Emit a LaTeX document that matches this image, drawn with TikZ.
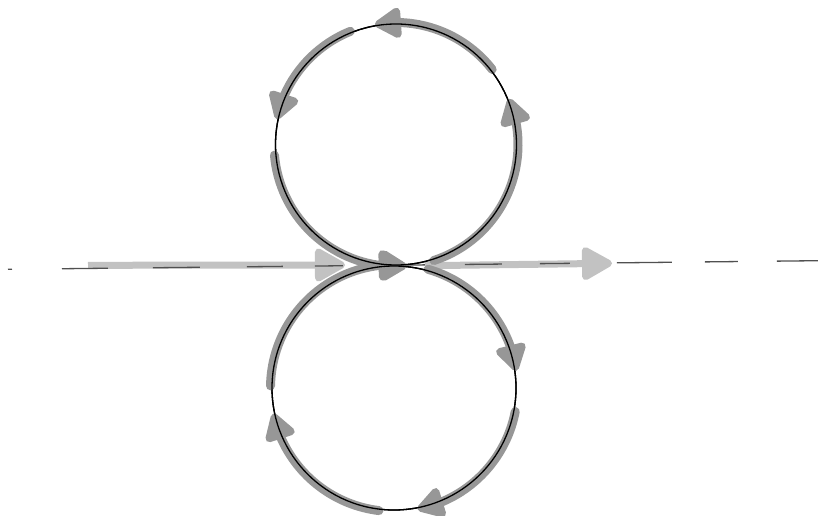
\documentclass[tikz,border=0pt]{standalone}
\usetikzlibrary{arrows.meta,bending,calc}
\definecolor{dk}{HTML}{979797}
\definecolor{lt}{HTML}{C2C2C2}
\definecolor{dsh}{HTML}{505050}
\begin{document}
\begin{tikzpicture}[x=1pt,y=1pt,
  darc/.style={draw=dk, line width=9pt, line cap=round, -{Triangle[length=30pt,width=34pt,round]}},
  larr/.style={draw=lt, line width=7pt, -{Triangle[length=34pt,width=36pt,round]}},
  ring/.style={circle, draw=black, line width=1.3pt, inner sep=0pt, outer sep=0pt}]
\useasboundingbox (0,0) rectangle (818,515);
% light gray arrows along the line
\coordinate (a1s) at (88,249.7);
\coordinate (a1e) at (345,250);
\coordinate (a2s) at (425,249.3);
\coordinate (a2e) at (612,251.7);
\draw[larr] (a1s) -- (a1e);
\draw[larr] (a2s) -- (a2e);
% dashed axis
\coordinate (L) at (8,245.7);
\coordinate (R) at (818,254.3);
\draw[dsh, line width=1.3pt, dash pattern=on 4pt off 50pt on 46pt off 45pt on 47pt off 47pt on 36pt off 32pt on 28pt off 37pt on 45pt off 40pt on 37pt off 38pt on 30pt off 47pt on 55pt off 33pt on 33pt off 39pt on 41pt off 40pt] (L) -- (R);
% circles (named nodes)
\node[ring, minimum size=241pt] (top) at (396,370.5) {};
\node[ring, minimum size=244pt] (bot) at (394,127) {};
% dark gray flow arcs, top circle (counterclockwise)
\draw[darc] ($(top.center)+(185:122)$) arc[start angle=185,end angle=275,radius=122];
\draw[darc] ($(top.center)+(288:122)$) arc[start angle=288,end angle=382,radius=122];
\draw[darc] ($(top.center)+(38:122)$) arc[start angle=38,end angle=100,radius=122];
\draw[darc] ($(top.center)+(112:122)$) arc[start angle=112,end angle=168,radius=122];
% bottom circle (clockwise)
\draw[darc] ($(bot.center)+(179:123.5)$) arc[start angle=179,end angle=85,radius=123.5];
\draw[darc] ($(bot.center)+(74:123.5)$) arc[start angle=74,end angle=8,radius=123.5];
\draw[darc] ($(bot.center)+(-11:123.5)$) arc[start angle=-11,end angle=-79,radius=123.5];
\draw[darc] ($(bot.center)+(-97:123.5)$) arc[start angle=-97,end angle=-168,radius=123.5];
% circle outlines on top
\draw[black, line width=1.3pt] (top) circle[radius=120.5];
\draw[black, line width=1.3pt] (bot) circle[radius=122];
\end{tikzpicture}
\end{document}
